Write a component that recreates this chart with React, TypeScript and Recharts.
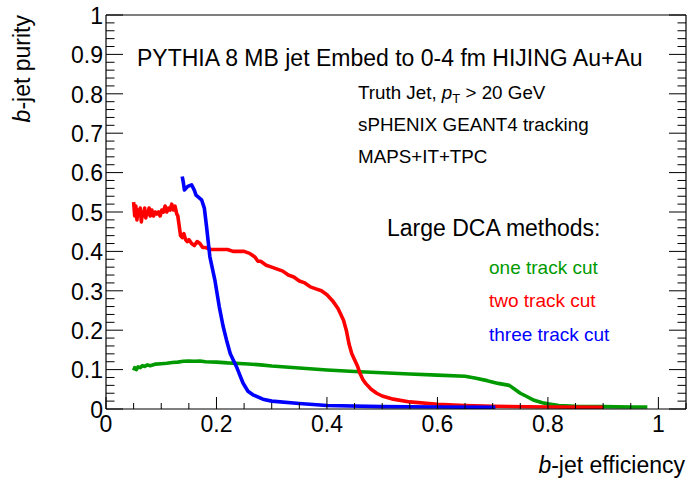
import React from 'react';
import { ComposedChart, Line, XAxis, YAxis } from 'recharts';

const FONT = '"Liberation Sans", Arial, Helvetica, sans-serif';

// ---- data ----
const oneTrackX = [0.05, 0.052, 0.055, 0.058, 0.062, 0.066, 0.07, 0.075, 0.08, 0.09, 0.1, 0.11, 0.12, 0.13, 0.14, 0.15, 0.16, 0.17, 0.18, 0.2, 0.22, 0.25, 0.28, 0.3, 0.35, 0.4, 0.45, 0.5, 0.55, 0.6, 0.65, 0.67, 0.69, 0.71, 0.73, 0.74, 0.75, 0.76, 0.775, 0.79, 0.8, 0.82, 0.85, 0.9, 0.95, 0.98];
const oneTrackY = [0.098, 0.105, 0.1, 0.107, 0.105, 0.11, 0.108, 0.112, 0.11, 0.114, 0.115, 0.116, 0.118, 0.119, 0.121, 0.122, 0.121, 0.122, 0.12, 0.119, 0.117, 0.115, 0.112, 0.109, 0.104, 0.099, 0.095, 0.092, 0.089, 0.086, 0.083, 0.078, 0.072, 0.065, 0.06, 0.05, 0.04, 0.033, 0.022, 0.016, 0.013, 0.009, 0.007, 0.006, 0.005, 0.005];

const twoTrackX = [0.05, 0.052, 0.054, 0.056, 0.058, 0.06, 0.062, 0.064, 0.066, 0.068, 0.07, 0.072, 0.074, 0.076, 0.078, 0.08, 0.083, 0.086, 0.089, 0.092, 0.095, 0.098, 0.101, 0.104, 0.107, 0.11, 0.113, 0.116, 0.119, 0.122, 0.125, 0.128, 0.13, 0.133, 0.135, 0.138, 0.141, 0.144, 0.147, 0.15, 0.155, 0.16, 0.165, 0.17, 0.175, 0.18, 0.19, 0.2, 0.21, 0.22, 0.23, 0.24, 0.25, 0.26, 0.265, 0.27, 0.275, 0.28, 0.29, 0.3, 0.31, 0.32, 0.33, 0.34, 0.35, 0.36, 0.37, 0.38, 0.39, 0.4, 0.41, 0.42, 0.43, 0.435, 0.44, 0.445, 0.45, 0.455, 0.46, 0.465, 0.47, 0.48, 0.49, 0.5, 0.52, 0.55, 0.6, 0.65, 0.7, 0.8, 0.9];
const twoTrackY = [0.525, 0.49, 0.515, 0.48, 0.505, 0.495, 0.51, 0.475, 0.5, 0.49, 0.51, 0.485, 0.5, 0.495, 0.51, 0.49, 0.505, 0.49, 0.5, 0.495, 0.5, 0.49, 0.505, 0.5, 0.515, 0.5, 0.51, 0.505, 0.52, 0.505, 0.515, 0.495, 0.49, 0.46, 0.44, 0.435, 0.445, 0.43, 0.425, 0.43, 0.42, 0.415, 0.425, 0.42, 0.41, 0.41, 0.405, 0.405, 0.405, 0.405, 0.4, 0.4, 0.4, 0.395, 0.39, 0.385, 0.375, 0.375, 0.365, 0.36, 0.355, 0.35, 0.34, 0.335, 0.325, 0.32, 0.31, 0.305, 0.3, 0.29, 0.275, 0.255, 0.225, 0.2, 0.165, 0.14, 0.125, 0.11, 0.09, 0.075, 0.065, 0.05, 0.04, 0.033, 0.025, 0.018, 0.012, 0.009, 0.007, 0.005, 0.004];

const threeTrackX = [0.138, 0.14, 0.142, 0.148, 0.155, 0.16, 0.163, 0.173, 0.178, 0.182, 0.188, 0.197, 0.205, 0.212, 0.218, 0.225, 0.236, 0.248, 0.257, 0.266, 0.284, 0.3, 0.35, 0.4, 0.5, 0.6, 0.705];
const threeTrackY = [0.59, 0.575, 0.556, 0.565, 0.569, 0.555, 0.543, 0.531, 0.51, 0.463, 0.387, 0.328, 0.26, 0.21, 0.176, 0.14, 0.108, 0.066, 0.045, 0.036, 0.025, 0.02, 0.014, 0.009, 0.006, 0.005, 0.004];

const xMajorTicks = [0, 0.2, 0.4, 0.6, 0.8, 1];
const xMinorTicks = [0.05, 0.1, 0.15, 0.25, 0.3, 0.35, 0.45, 0.5, 0.55, 0.65, 0.7, 0.75, 0.85, 0.9, 0.95, 1.05];
const yMajorTicks = [0, 0.1, 0.2, 0.3, 0.4, 0.5, 0.6, 0.7, 0.8, 0.9, 1];
const yMinorTicks = [0.02, 0.04, 0.06, 0.08, 0.12, 0.14, 0.16, 0.18, 0.22, 0.24, 0.26, 0.28, 0.32, 0.34, 0.36, 0.38, 0.42, 0.44, 0.46, 0.48, 0.52, 0.54, 0.56, 0.58, 0.62, 0.64, 0.66, 0.68, 0.72, 0.74, 0.76, 0.78, 0.82, 0.84, 0.86, 0.88, 0.92, 0.94, 0.96, 0.98];

const seriesNames = ['one track cut', 'two track cut', 'three track cut'];
const seriesColors = ['#009a00', '#ff0000', '#0000ff'];

const zip = (xs: number[], ys: number[]) => xs.map((x, i) => ({ x, y: ys[i] }));
const series = [zip(oneTrackX, oneTrackY), zip(twoTrackX, twoTrackY), zip(threeTrackX, threeTrackY)];

const X_DOMAIN: [number, number] = [0, 1.05];
const Y_DOMAIN: [number, number] = [0, 1];
const xAllTicks = [...xMajorTicks, ...xMinorTicks].sort((a, b) => a - b);
const yAllTicks = [...yMajorTicks, ...yMinorTicks].sort((a, b) => a - b);

const isMajor = (list: number[], v: number) => list.some((m) => Math.abs(m - v) < 1e-9);

const XTick = (side: 'bottom' | 'top') => (props: any) => {
  const { x, y, payload } = props;
  const major = isMajor(xMajorTicks, payload.value);
  const len = major ? 12 : 6;
  const dir = side === 'bottom' ? -1 : 1;
  return (
    <g>
      <line x1={x} x2={x} y1={y} y2={y + dir * len} stroke="#000" strokeWidth={1} />
      {side === 'bottom' && major ? (
        <text x={x} y={y + 23} textAnchor="middle" fontSize={23} fontFamily={FONT} fill="#000">{String(payload.value)}</text>
      ) : null}
    </g>
  );
};

const YTick = (side: 'left' | 'right') => (props: any) => {
  const { x, y, payload } = props;
  const major = isMajor(yMajorTicks, payload.value);
  const len = major ? 17 : 8.5;
  const dir = side === 'left' ? 1 : -1;
  return (
    <g>
      <line x1={x} x2={x + dir * len} y1={y} y2={y} stroke="#000" strokeWidth={1} />
      {side === 'left' && major ? (
        <text x={x - 3} y={y + 8.8} textAnchor="end" fontSize={23} fontFamily={FONT} fill="#000">{String(payload.value)}</text>
      ) : null}
    </g>
  );
};

const axisLineStyle = { stroke: '#000', strokeWidth: 1.2 };

export default function App() {
  return (
    <div style={{ position: 'absolute', left: 0, top: 0, width: 690, height: 480, background: '#fff' }}>
      <ComposedChart width={690} height={480} margin={{ top: 14, right: 3, bottom: 70, left: 105 }}>
        <XAxis xAxisId="b" orientation="bottom" type="number" dataKey="x" domain={X_DOMAIN} allowDataOverflow
          ticks={xAllTicks} interval={0} height={1} tickLine={false} tickSize={0} tickMargin={0}
          axisLine={axisLineStyle} tick={XTick('bottom')} />
        <XAxis xAxisId="t" orientation="top" type="number" domain={X_DOMAIN} allowDataOverflow
          ticks={xAllTicks} interval={0} height={1} tickLine={false} tickSize={0} tickMargin={0}
          axisLine={axisLineStyle} tick={XTick('top')} />
        <YAxis yAxisId="l" orientation="left" type="number" dataKey="y" domain={Y_DOMAIN} allowDataOverflow
          ticks={yAllTicks} interval={0} width={1} tickLine={false} tickSize={0} tickMargin={0}
          axisLine={axisLineStyle} tick={YTick('left')} />
        <YAxis yAxisId="r" orientation="right" type="number" domain={Y_DOMAIN} allowDataOverflow
          ticks={yAllTicks} interval={0} width={1} tickLine={false} tickSize={0} tickMargin={0}
          axisLine={axisLineStyle} tick={YTick('right')} />

        {series.map((d, i) => (
          <Line key={seriesNames[i]} name={seriesNames[i]} xAxisId="b" yAxisId="l" data={d} dataKey="y" type="linear"
            stroke={seriesColors[i]} strokeWidth={3.6} dot={false} isAnimationActive={false} strokeLinejoin="round" />
        ))}
      </ComposedChart>

      <svg width={690} height={480} style={{ position: 'absolute', left: 0, top: 0, pointerEvents: 'none' }} fontFamily={FONT}>
        <text x={137} y={65.5} fontSize={23} fill="#000">PYTHIA 8 MB jet Embed to 0-4 fm HIJING Au+Au</text>
        <text x={358} y={99} fontSize={18.8} fill="#000">
          Truth Jet, <tspan fontStyle="italic">p</tspan><tspan fontSize={13} dy={4}>T</tspan><tspan dy={-4}> &gt; 20 GeV</tspan>
        </text>
        <text x={358} y={131} fontSize={18.8} fill="#000">sPHENIX GEANT4 tracking</text>
        <text x={358} y={163} fontSize={18.8} fill="#000">MAPS+IT+TPC</text>
        <text x={387} y={236} fontSize={23} fill="#000">Large DCA methods:</text>
        {seriesNames.map((n, i) => (
          <text key={n} x={489} y={273.5 + i * 33.5} fontSize={19} fill={seriesColors[i]}>{n}</text>
        ))}
        <text x={685} y={473} fontSize={23} fill="#000" textAnchor="end">
          <tspan fontStyle="italic">b</tspan>-jet efficiency
        </text>
        <text transform="translate(30,15) rotate(-90)" fontSize={23} fill="#000" textAnchor="end">
          <tspan fontStyle="italic">b</tspan>-jet purity
        </text>
      </svg>
    </div>
  );
}
